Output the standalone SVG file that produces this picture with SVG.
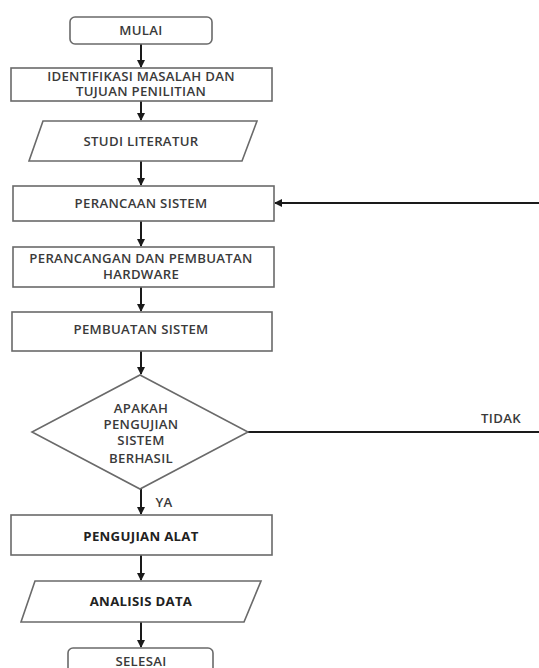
<svg xmlns="http://www.w3.org/2000/svg" width="539" height="668" viewBox="0 0 539 668">
<style>
.box{fill:#fff;stroke:#6a6a6a;stroke-width:1.6}
.t{font-family:"Open Sans","Liberation Sans",sans-serif;font-size:13.2px;letter-spacing:0.3px;fill:#3a3a3a;text-anchor:middle;font-weight:600}
.tb{font-weight:700;fill:#222}
.c{fill:none;stroke:#1a1a1a;stroke-width:2}
</style>
<defs>
<marker id="ah" markerWidth="8" markerHeight="8" refX="7" refY="4" orient="auto" markerUnits="userSpaceOnUse">
<path d="M0,0 L8,4 L0,8 z" fill="#1a1a1a"/>
</marker>
</defs>
<rect width="539" height="668" fill="#fff"/>
<g id="connectors">
<line class="c" x1="141" y1="44" x2="141" y2="67" marker-end="url(#ah)"/>
<line class="c" x1="141" y1="101" x2="141" y2="120" marker-end="url(#ah)"/>
<line class="c" x1="141" y1="161" x2="141" y2="185" marker-end="url(#ah)"/>
<line class="c" x1="141" y1="221" x2="141" y2="246" marker-end="url(#ah)"/>
<line class="c" x1="141" y1="287" x2="141" y2="311" marker-end="url(#ah)"/>
<line class="c" x1="141" y1="351" x2="141" y2="374" marker-end="url(#ah)"/>
<line class="c" x1="141" y1="489" x2="141" y2="514" marker-end="url(#ah)"/>
<line class="c" x1="141" y1="555" x2="141" y2="580" marker-end="url(#ah)"/>
<line class="c" x1="141" y1="622" x2="141" y2="647" marker-end="url(#ah)"/>
<path class="c" d="M248,432 H541 V203 H275" marker-end="url(#ah)"/>
<text class="t" x="501" y="423">TIDAK</text>
<text class="t" x="164" y="507">YA</text>
</g>
<g id="mulai">
<rect class="box" x="70" y="17" width="142" height="27" rx="5"/>
<text class="t" x="141" y="35">MULAI</text>
</g>
<g id="identifikasi">
<rect class="box" x="11" y="68" width="261" height="33"/>
<text class="t" x="141" y="81">IDENTIFIKASI MASALAH DAN</text>
<text class="t" x="141" y="96">TUJUAN PENILITIAN</text>
</g>
<g id="studi">
<polygon class="box" points="43,121 257,121 242,161 29,161"/>
<text class="t" x="141" y="146">STUDI LITERATUR</text>
</g>
<g id="perancaan">
<rect class="box" x="13" y="186" width="261" height="35"/>
<text class="t" x="141" y="208">PERANCAAN SISTEM</text>
</g>
<g id="hardware">
<rect class="box" x="13" y="247" width="261" height="40"/>
<text class="t" x="141" y="263">PERANCANGAN DAN PEMBUATAN</text>
<text class="t" x="141" y="279">HARDWARE</text>
</g>
<g id="pembuatan">
<rect class="box" x="12" y="312" width="260" height="39"/>
<text class="t" x="141" y="334">PEMBUATAN SISTEM</text>
</g>
<g id="keputusan">
<polygon class="box" points="140,375 248,432 140,489 32,432"/>
<text class="t" x="141" y="413">APAKAH</text>
<text class="t" x="141" y="429">PENGUJIAN</text>
<text class="t" x="141" y="445">SISTEM</text>
<text class="t" x="141" y="463">BERHASIL</text>
</g>
<g id="pengujian">
<rect class="box" x="11" y="515" width="261" height="40"/>
<text class="t tb" x="141" y="541">PENGUJIAN ALAT</text>
</g>
<g id="analisis">
<polygon class="box" points="35,581 261,581 244,622 21,622"/>
<text class="t tb" x="141" y="606">ANALISIS DATA</text>
</g>
<g id="selesai">
<rect class="box" x="68" y="648" width="145" height="30" rx="5"/>
<text class="t" x="141" y="666">SELESAI</text>
</g>
</svg>
